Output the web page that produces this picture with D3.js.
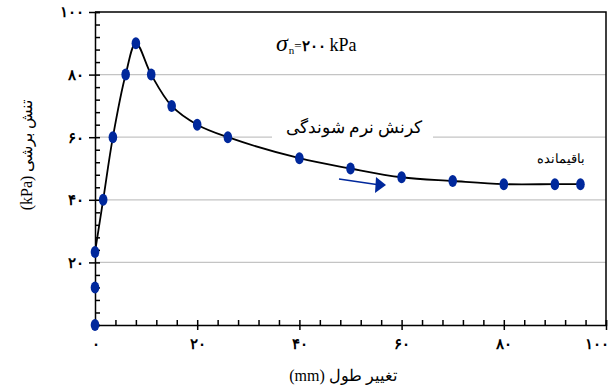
<!DOCTYPE html>
<html>
<head>
<meta charset="utf-8">
<script src="https://cdn.jsdelivr.net/npm/d3@7/dist/d3.min.js"></script>
<style>
  body { margin: 0; background: #fff; }
  svg { display: block; }
</style>
</head>
<body>
<div id="chart"></div>
<script>
// data
const displacement = [0, 0, 0, 1.6, 3.5, 6, 8, 11, 15, 20, 26, 40, 50, 60, 70, 80, 90, 95];
const shearStress  = [0, 12, 23.3, 40, 60, 80, 90, 80, 70, 64, 60, 53.3, 50, 47.2, 46, 45, 45, 45];
const majorTicks = [0, 20, 40, 60, 80, 100];
const gridValues = [20, 40, 60, 80];

const W = 615, H = 389;
const MARGIN = {top: 12, right: 9, bottom: 64, left: 95};
const FONT = "'Liberation Serif', 'DejaVu Serif', serif";
const BLUE = '#00289c';

function fa(n) {
  return String(n).replace(/[0-9]/g, d => '۰۱۲۳۴۵۶۷۸۹'[d]);
}

const svg = d3.select('#chart').append('svg')
  .attr('width', W)
  .attr('height', H);

let x = d3.scaleLinear().domain([0, 100]).range([MARGIN.left, W - MARGIN.right]);
let y = d3.scaleLinear().domain([0, 100]).range([H - MARGIN.bottom, MARGIN.top]);
const minorTicks = d3.range(0, 101, 4);

// grid
svg.append('g')
  .selectAll('line')
  .data(gridValues)
  .enter().append('line')
  .attr('x1', x(0)).attr('x2', x(100))
  .attr('y1', d => y(d)).attr('y2', d => y(d))
  .attr('stroke', '#c4c4c4')
  .attr('stroke-width', 1.2);

// frame top + right
svg.append('path')
  .attr('d', 'M' + x(0) + ',' + y(100) + 'H' + x(100) + 'V' + y(0))
  .attr('fill', 'none')
  .attr('stroke', '#000')
  .attr('stroke-width', 1.5);

// y axis
svg.append('g')
  .attr('transform', 'translate(' + x(0) + ',0)')
  .call(d3.axisLeft(y).tickValues(minorTicks).tickSize(-5).tickFormat(''))
  .call(g => g.selectAll('path,line').attr('stroke', '#000').attr('stroke-width', 1.5));
svg.append('g')
  .attr('transform', 'translate(' + x(0) + ',0)')
  .call(d3.axisLeft(y).tickValues(majorTicks.slice(1)).tickSize(6).tickPadding(5).tickFormat(fa))
  .call(g => g.select('.domain').remove())
  .call(g => g.selectAll('line').attr('stroke', '#000').attr('stroke-width', 1.5))
  .call(g => g.selectAll('text')
    .style('font-family', FONT).style('font-size', '15px').style('font-weight', 'bold').attr('fill', '#000'));

// x axis
svg.append('g')
  .attr('transform', 'translate(0,' + y(0) + ')')
  .call(d3.axisBottom(x).tickValues(minorTicks).tickSize(-5).tickFormat(''))
  .call(g => g.selectAll('path,line').attr('stroke', '#000').attr('stroke-width', 1.5));
svg.append('g')
  .attr('transform', 'translate(0,' + y(0) + ')')
  .call(d3.axisBottom(x).tickValues(majorTicks).tickSize(5).tickPadding(8).tickFormat(fa))
  .call(g => g.select('.domain').remove())
  .call(g => g.selectAll('line').attr('stroke', '#000').attr('stroke-width', 1.5))
  .call(g => g.selectAll('text')
    .style('font-family', FONT).style('font-size', '15px').style('font-weight', 'bold').attr('fill', '#000'))
  .call(g => g.selectAll('text').filter(d => d === 100).attr('text-anchor', 'end').attr('dx', 2));

// axis titles
svg.append('text')
  .attr('x', 343)
  .attr('y', 381)
  .attr('direction', 'rtl')
  .attr('text-anchor', 'middle')
  .style('font-family', FONT)
  .style('font-size', '16px')
  .text('تغییر طول (mm)');

svg.append('text')
  .attr('transform', 'translate(32,155) rotate(-90)')
  .attr('direction', 'rtl')
  .attr('text-anchor', 'middle')
  .style('font-family', FONT)
  .style('font-size', '16px')
  .text('تنش برشی (kPa)');

// label box over the 60 grid line
svg.append('rect')
  .attr('x', 272).attr('y', 116).attr('width', 161).attr('height', 26)
  .attr('fill', '#fff');

svg.append('text')
  .attr('x', 354).attr('y', 133)
  .attr('text-anchor', 'middle')
  .style('font-family', FONT)
  .style('font-size', '17px')
  .text('کرنش نرم شوندگی');

svg.append('text')
  .attr('x', 585).attr('y', 163)
  .attr('text-anchor', 'end')
  .style('font-family', FONT)
  .style('font-size', '13px')
  .text('باقیمانده');

// sigma label
const sig = svg.append('text')
  .attr('x', 276).attr('y', 51)
  .style('font-family', FONT)
  .style('font-size', '24px');
sig.append('tspan').style('font-style', 'italic').text('σ');
sig.append('tspan').attr('dy', 3).attr('dx', 1).style('font-size', '11px').text('n');
sig.append('tspan').attr('dy', -4).style('font-size', '13px').text('=');
sig.append('tspan').attr('dy', 1).style('font-size', '15px').style('font-weight', 'bold').text(fa(200) + ' ');
sig.append('tspan').style('font-size', '18px').text('kPa');

// arrow
svg.append('line')
  .attr('x1', 339).attr('y1', 179)
  .attr('x2', 380).attr('y2', 185)
  .attr('stroke', BLUE)
  .attr('stroke-width', 1.5);
svg.append('path')
  .attr('d', 'M376,177L386,185L375,193Z')
  .attr('fill', BLUE);

// curve
const pts = displacement.map((d, i) => [d, shearStress[i]]);
svg.append('path')
  .datum(pts.slice(2))
  .attr('fill', 'none')
  .attr('stroke', '#000')
  .attr('stroke-width', 1.8)
  .attr('d', d3.line()
    .x(d => x(d[0]))
    .y(d => y(d[1]))
    .curve(d3.curveCatmullRom.alpha(0.5)));

// markers
svg.append('g')
  .selectAll('ellipse')
  .data(pts)
  .enter().append('ellipse')
  .attr('cx', d => x(d[0]))
  .attr('cy', d => y(d[1]))
  .attr('rx', 4.3)
  .attr('ry', 6)
  .attr('fill', BLUE);
</script>
</body>
</html>
